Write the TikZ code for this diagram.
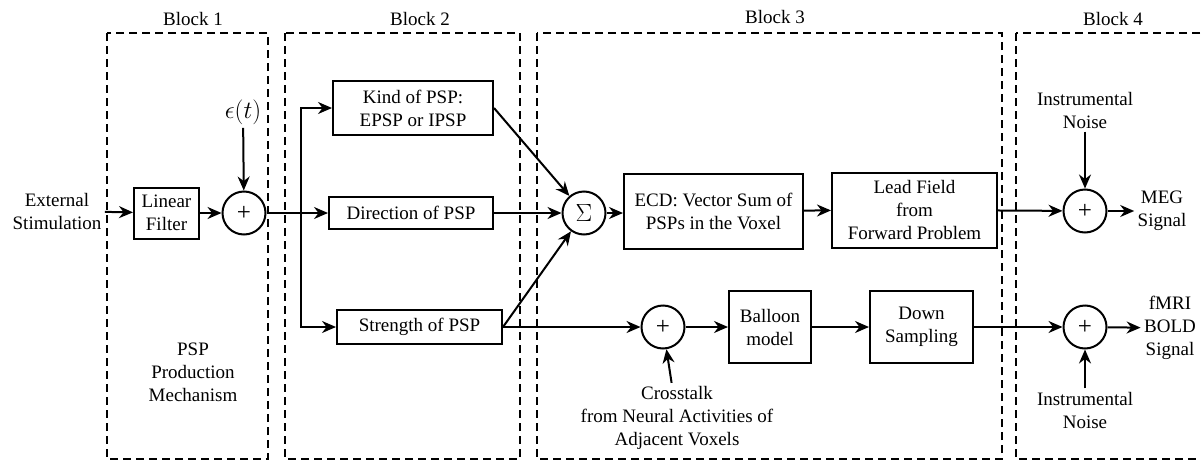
\documentclass[tikz,border=0pt]{standalone}
\usepackage{fontspec}
\setmainfont{Liberation Serif}
\usepackage{tikz}
\usetikzlibrary{arrows.meta}
\usetikzlibrary{shapes}
\usetikzlibrary{calc}

\begin{document}
\begin{tikzpicture}[x=1pt, y=-1pt,
  every node/.style={font=\rmfamily\fontsize{19}{23}\selectfont, align=center},
  blk/.style={draw, line width=2pt, inner sep=0pt},
  sumnode/.style={draw, circle, line width=2pt, minimum size=43pt, inner sep=0pt,
    font=\rmfamily\fontsize{25}{28}\selectfont},
  flow/.style={line width=2pt, -{Stealth[length=14pt, width=12pt]}},
  wire/.style={line width=2pt},
  region/.style={line width=2pt, dash pattern=on 8pt off 5pt}]
  \useasboundingbox (0,0) rectangle (1201,463);

  \draw[region] (107,33) rectangle (268,459);
  \draw[region] (285,33) rectangle (520,459);
  \draw[region] (537,33) rectangle (1002,459);
  \draw[region] (1016,33) rectangle (1215,459);
  \node (lbl1) at (193,19) {Block 1};
  \node (lbl2) at (420,19) {Block 2};
  \node (lbl3) at (775,17) {Block 3};
  \node (lbl4) at (1113,19) {Block 4};
  \node (mech) at (193,372) {PSP\\Production\\Mechanism};

  \node (ext) at (57,211) {External\\Stimulation};
  \node[blk, minimum width=65pt, minimum height=51pt] (filt) at (166.5,213) {Linear\\Filter};
  \node[sumnode] (add1) at (244,213) {+};
  \node[font=\rmfamily\fontsize{27}{30}\selectfont] (eps) at (243,112) {$\epsilon(t)$};
  \coordinate (fork) at (301,213);
  \node[blk, minimum width=160pt, minimum height=54pt] (kind) at (413,108) {Kind of PSP:\\EPSP or IPSP};
  \node[blk, minimum width=164pt, minimum height=32pt] (dir) at (411,213) {Direction of PSP};
  \node[blk, minimum width=165pt, minimum height=34pt] (str) at (419.5,327) {Strength of PSP};

  \node[sumnode] (sig) at (584,213) {$\Sigma$};
  \node[blk, minimum width=179pt, minimum height=75pt] (ecd) at (713.5,211) {ECD: Vector Sum of\\PSPs in the Voxel};
  \node[blk, minimum width=165pt, minimum height=75pt] (lead) at (914.5,210) {Lead Field\\from\\Forward Problem};
  \node[sumnode] (add2) at (663,327) {+};
  \node[blk, minimum width=82pt, minimum height=72pt] (balloon) at (770,327) {Balloon\\model};
  \node[blk, minimum width=103pt, minimum height=72pt] (down) at (921.5,327) {Down\\Sampling};
  \node (cross) at (677,418) {Crosstalk\\from Neural Activities of\\Adjacent Voxels};

  \node[sumnode] (megadd) at (1085,211) {+};
  \node (noise1) at (1085,110) {Instrumental\\Noise};
  \node (meg) at (1162,211) {MEG\\Signal};
  \node[sumnode] (fmriadd) at (1085,327) {+};
  \node (noise2) at (1085,410) {Instrumental\\Noise};
  \node (fmri) at (1170,328) {fMRI\\BOLD\\Signal};

  \draw[flow] (ext) -- (filt);
  \draw[flow] (filt) -- (add1);
  \draw[flow] (eps) -- (add1);
  \draw[wire] (add1) -- (fork);
  \draw[flow] (fork) -- (dir);
  \draw[flow] (fork) |- (kind);
  \draw[flow] (fork) |- (str);
  \draw[flow] (kind.east) -- (sig);
  \draw[flow] (dir) -- (sig);
  \draw[flow] (str.east) -- (sig);
  \draw[flow] (sig) -- (sig -| ecd.west);
  \draw[flow] (ecd) -- (lead);
  \draw[flow] (lead) -- (megadd);
  \draw[flow] (noise1) -- (megadd);
  \draw[flow] (megadd) -- (meg);
  \draw[flow] (str) -- (add2);
  \draw[flow] (cross) -- (add2);
  \draw[flow] (add2) -- (balloon);
  \draw[flow] (balloon) -- (down);
  \draw[flow] (down) -- (fmriadd);
  \draw[flow] (noise2) -- (fmriadd);
  \draw[flow] (fmriadd) -- (fmri);
\end{tikzpicture}
\end{document}
